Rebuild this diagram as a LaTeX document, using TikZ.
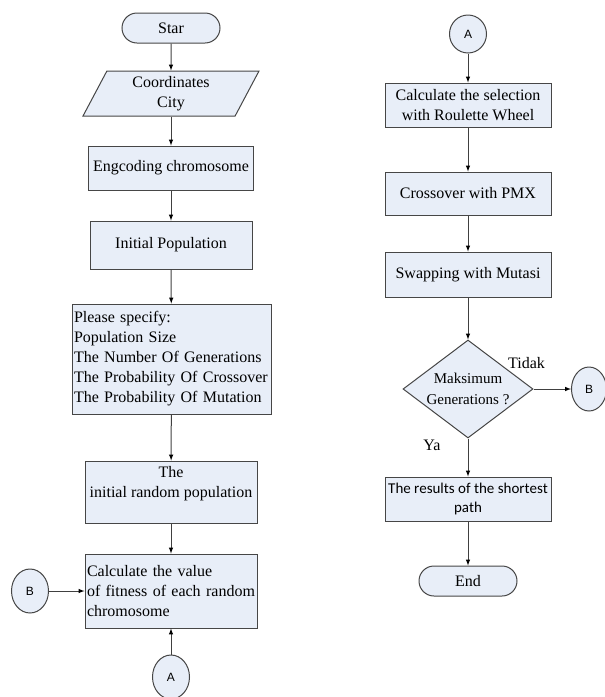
\documentclass[tikz,border=0pt]{standalone}
\usepackage{fontspec}
\setmainfont{Liberation Serif}
\newfontfamily\calibrifont{Carlito}
\newfontfamily\arialfont{Liberation Sans}
\usepackage{tikz}
\usetikzlibrary{arrows,shapes.geometric}
\definecolor{boxfill}{RGB}{232,238,248}
\definecolor{boxline}{RGB}{70,70,70}

\begin{document}
\begin{tikzpicture}[x=1pt,y=-1pt,
			every node/.style={font=\fontsize{16}{20}\selectfont},
			blok/.style={draw=boxline,fill=boxfill,line width=1pt,rectangle,align=center,inner sep=2pt},
			terminal/.style={blok,rounded corners=15pt,minimum width=98pt,minimum height=30pt},
			masukan/.style={draw=boxline,fill=boxfill,line width=1pt,trapezium,trapezium left angle=68,trapezium right angle=112,trapezium stretches=true,minimum width=176pt,minimum height=45pt,align=center,inner sep=1pt},
			keputusan/.style={draw=boxline,fill=boxfill,line width=1pt,diamond,aspect=1.33,minimum width=130pt,minimum height=98pt,inner sep=-4pt,align=center,font=\fontsize{15}{21}\selectfont},
			konektor/.style={draw=boxline,fill=boxfill,line width=1pt,ellipse,minimum width=37pt,minimum height=44pt,inner sep=0pt,font=\arialfont\fontsize{12}{14}\selectfont},
			panah/.style={draw=black!75,line width=1pt,-latex}]
			\useasboundingbox (0,0) rectangle (605,697);
			\node[terminal] (mulai) at (171,28) {Star};
			\node[masukan] (koordinat) at (171,93.5) {Coordinates\\City};
			\node[blok,minimum width=165pt,minimum height=44pt] (enkode) at (171,168) {Engcoding chromosome};
			\node[blok,minimum width=162pt,minimum height=48pt] (populasi) at (171,245) {Initial Population};
			\node[blok,text width=195pt,align=left,minimum height=110pt] (parameter) at (171.5,359) {Please specify:\\Population Size\\The Number Of Generations\\The Probability Of Crossover\\The Probability Of Mutation};
			\node[blok,minimum width=172pt,minimum height=62pt] (acak) at (171,492) {The\\initial random population\\\mbox{}};
			\node[blok,text width=168pt,align=left,minimum height=74pt] (fitness) at (171,591) {Calculate the value\\of fitness of each random\\chromosome};
			\node[konektor] (b1) at (30,591) {B};
			\node[konektor] (a1) at (171,677) {A};
			\node[konektor,minimum height=38pt] (a2) at (468,34) {A};
			\node[blok,minimum width=166pt,minimum height=44pt] (seleksi) at (468,105) {Calculate the selection\\with Roulette Wheel};
			\node[blok,minimum width=166pt,minimum height=43pt] (pindah) at (468,193.5) {Crossover with PMX};
			\node[blok,minimum width=166pt,minimum height=45pt] (tukar) at (468,274.5) {Swapping with Mutasi};
			\node[keputusan] (cek) at (468,389) {Maksimum\\Generations ?};
			\node[konektor,minimum width=35pt] (b2) at (589,389) {B};
			\node[blok,minimum width=166pt,minimum height=44pt,font=\calibrifont\fontsize{15}{19}\selectfont] (hasil) at (468,499) {The results of the shortest\\path};
			\node[terminal] (selesai) at (468,581) {End};
			\path[panah]
			(mulai) edge (koordinat)
			(koordinat) edge (enkode)
			(enkode) edge (populasi)
			(populasi) edge (parameter)
			(parameter) edge (acak)
			(acak) edge (fitness)
			(b1) edge (fitness)
			(a1) edge (fitness)
			(a2) edge (seleksi)
			(seleksi) edge (pindah)
			(pindah) edge (tukar)
			(tukar) edge (cek)
			(cek) edge node[pos=0,xshift=-7pt,yshift=26pt]{Tidak} (b2) edge node[pos=0,xshift=-36pt,yshift=-7pt]{Ya} (hasil)
			(hasil) edge (selesai);
		\end{tikzpicture}
\end{document}
